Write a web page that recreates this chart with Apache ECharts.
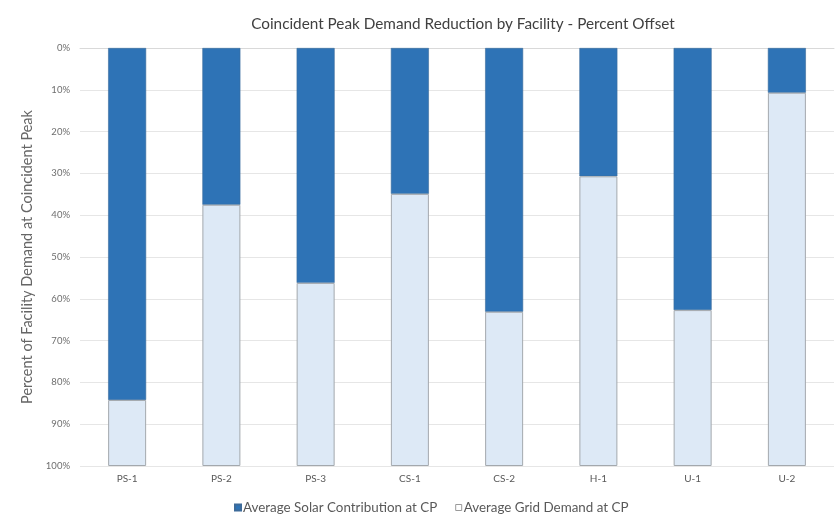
<!DOCTYPE html>
<html>
<head>
<meta charset="utf-8">
<script src="https://cdn.jsdelivr.net/npm/echarts@6/dist/echarts.min.js"></script>
<style>
  html, body { margin: 0; padding: 0; background: #ffffff; }
  #chart { width: 838px; height: 522px; }
</style>
</head>
<body>
<div id="chart"></div>
<script>
// Facilities on the category axis
const facilities = ['PS-1', 'PS-2', 'PS-3', 'CS-1', 'CS-2', 'H-1', 'U-1', 'U-2'];
// Share of facility demand met by solar at coincident peak (%)
const solarContribution = [84.2, 37.5, 56.2, 34.9, 63.1, 30.7, 62.7, 10.7];
// Remaining share drawn from the grid at coincident peak (%)
const gridDemand = [15.8, 62.5, 43.8, 65.1, 36.9, 69.3, 37.3, 89.3];
// Y-axis ticks (%)
const yTicks = [0, 10, 20, 30, 40, 50, 60, 70, 80, 90, 100];

const fontFamily = 'Lato, "Open Sans", sans-serif';

const chart = echarts.init(document.getElementById('chart'), null, { renderer: 'canvas' });

chart.setOption({
  backgroundColor: '#ffffff',
  animation: false,
  title: {
    text: 'Coincident Peak Demand Reduction by Facility - Percent Offset',
    left: 458,
    top: 12,
    textAlign: 'center',
    textStyle: { fontFamily, fontSize: 15.3, fontWeight: 'normal', color: '#404040' }
  },
  legend: {
    top: 496,
    left: 229,
    icon: 'rect',
    itemWidth: 6,
    itemHeight: 6,
    itemGap: 18,
    textStyle: { fontFamily, fontSize: 13.4, color: '#595959', padding: [0, 0, 0, -3] },
    data: [
      { name: 'Average Solar Contribution at CP' },
      { name: 'Average Grid Demand at CP', itemStyle: { color: '#ffffff', borderColor: '#9a9a9a', borderWidth: 1 } }
    ]
  },
  grid: { left: 80, right: 4, top: 48, bottom: 56 },
  xAxis: {
    type: 'category',
    data: facilities,
    axisLine: { show: true, lineStyle: { color: '#d9d9d9' } },
    axisTick: { show: false },
    axisLabel: { fontFamily, fontSize: 10, color: '#595959', margin: 8 }
  },
  yAxis: {
    type: 'value',
    inverse: true,
    min: yTicks[0],
    max: yTicks[yTicks.length - 1],
    interval: 10,
    name: 'Percent of Facility Demand at Coincident Peak',
    nameLocation: 'middle',
    nameGap: 37,
    nameRotate: 90,
    nameTextStyle: { fontFamily, fontSize: 14.5, color: '#666666' },
    axisLine: { show: false },
    axisTick: { show: false },
    axisLabel: { fontFamily, fontSize: 9.5, color: '#6e6e6e', margin: 10, formatter: v => v + '%' },
    splitLine: { lineStyle: { color: '#e6e6e6', width: 1 } }
  },
  series: [
    {
      name: 'Average Solar Contribution at CP',
      type: 'bar',
      stack: 'total',
      barWidth: 38,
      data: solarContribution,
      itemStyle: { color: '#2e73b6', borderColor: '#3d6b9a', borderWidth: 0.6 }
    },
    {
      name: 'Average Grid Demand at CP',
      type: 'bar',
      stack: 'total',
      barWidth: 38,
      data: gridDemand,
      itemStyle: { color: '#dde9f6', borderColor: '#a3a8ad', borderWidth: 1 }
    }
  ]
});
</script>
</body>
</html>
